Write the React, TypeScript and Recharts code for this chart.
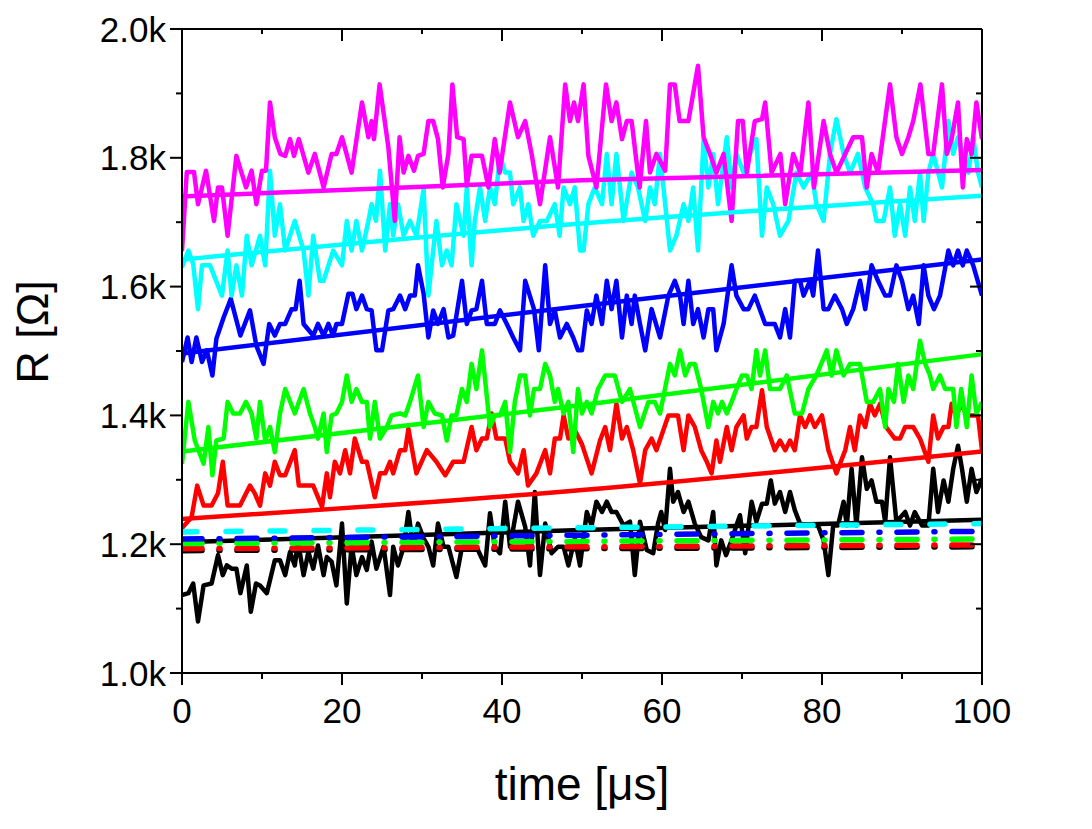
import React from 'react';
import { LineChart, Line, XAxis, YAxis } from 'recharts';

// [time µs, R Ω]
const magenta: [number, number][] = [
  [0, 1655], [0.6, 1778], [1.5, 1778], [2, 1728], [3, 1780], [4, 1702], [4.5, 1754], [5, 1754], [5.7, 1679], [6.8, 1803],
  [8, 1754], [8.7, 1780], [9.3, 1728], [10, 1780], [10.5, 1780], [11, 1886], [11.6, 1832], [12.3, 1806], [12.9, 1803], [13.5, 1829],
  [14, 1803], [14.6, 1829], [15.8, 1777], [16.6, 1806], [17.7, 1754], [18.7, 1806], [19.3, 1806], [20, 1832], [21.2, 1777], [22.5, 1886],
  [23.3, 1832], [23.7, 1857], [24, 1829], [24.7, 1914], [25.8, 1816], [26.6, 1702], [27.2, 1832], [27.7, 1777], [28.3, 1803], [29, 1780],
  [29.5, 1803], [30.2, 1806], [30.8, 1857], [31.4, 1857], [32, 1829], [32.6, 1754], [33.3, 1806], [33.8, 1914], [34.4, 1832], [35.2, 1829],
  [35.6, 1757], [36.2, 1803], [37.5, 1803], [38.3, 1754], [39.1, 1829], [39.7, 1777], [41, 1886], [42, 1832], [42.9, 1857], [43.7, 1806],
  [44.75, 1728], [46, 1832], [47, 1754], [47.9, 1914], [48.5, 1857], [49, 1886], [49.5, 1857], [50.2, 1914], [50.8, 1803], [51.8, 1754],
  [53, 1914], [53.7, 1857], [54.3, 1886], [55, 1829], [55.6, 1857], [56.2, 1857], [57.2, 1754], [58, 1857], [58.5, 1777], [59.3, 1806],
  [60.4, 1780], [61, 1914], [61.6, 1914], [62.2, 1857], [63.3, 1857], [64.5, 1943], [65.2, 1832], [66, 1806], [66.8, 1777], [67.7, 1806],
  [68.7, 1702], [69.5, 1857], [70.1, 1857], [70.6, 1777], [71.6, 1857], [72.5, 1860], [72.9, 1886], [73.7, 1777], [74.8, 1806], [75.4, 1728],
  [76.4, 1806], [77.3, 1777], [78.3, 1886], [79, 1754], [80.2, 1857], [81, 1806], [81.8, 1777], [82.9, 1806], [83.9, 1832], [85, 1832],
  [85.6, 1754], [86.2, 1806], [87, 1777], [88.5, 1914], [89.3, 1832], [90, 1806], [90.8, 1832], [91.4, 1857], [92.3, 1914], [93.3, 1806],
  [93.9, 1806], [95, 1914], [95.6, 1806], [96.2, 1829], [97, 1886], [97.6, 1754], [98.1, 1829], [98.7, 1806], [99.3, 1886], [100, 1829],
];

const cyan: [number, number][] = [
  [0, 1630], [0.8, 1656], [1.4, 1635], [2, 1565], [2.5, 1633], [3.5, 1633], [5, 1586], [5.7, 1656], [6.2, 1586], [6.8, 1633],
  [7.5, 1586], [8.1, 1679], [8.7, 1633], [9.75, 1679], [10.4, 1633], [11, 1780], [11.6, 1679], [12.25, 1728], [12.9, 1656], [14.1, 1702],
  [15.2, 1656], [15.8, 1586], [16.4, 1679], [17.25, 1609], [17.7, 1609], [18.9, 1656], [20, 1633], [20.6, 1702], [21.2, 1656], [21.8, 1702],
  [22.5, 1656], [23.3, 1702], [23.7, 1728], [24.25, 1702], [24.75, 1780], [25.4, 1656], [26, 1728], [26.4, 1679], [27, 1728], [27.7, 1679],
  [28.5, 1702], [29.3, 1679], [30.2, 1751], [30.8, 1586], [31.8, 1702], [32.5, 1633], [33.1, 1656], [33.7, 1633], [34.3, 1728], [35.2, 1679],
  [35.6, 1754], [36.2, 1633], [36.6, 1702], [37.25, 1754], [37.9, 1702], [38.5, 1754], [39.1, 1728], [39.75, 1803], [40.4, 1777], [41, 1777],
  [41.4, 1728], [42.25, 1754], [42.7, 1702], [43.3, 1728], [43.9, 1679], [44.75, 1702], [45.6, 1702], [46.6, 1728], [47.2, 1679], [47.7, 1754],
  [48.5, 1728], [49.1, 1754], [49.75, 1656], [50.2, 1656], [50.8, 1728], [51.6, 1754], [52.5, 1728], [53.1, 1806], [53.7, 1728], [54.3, 1806],
  [55.2, 1702], [56.2, 1777], [57, 1754], [57.9, 1702], [58.5, 1754], [59.1, 1728], [59.75, 1806], [61, 1656], [61.8, 1679], [62.7, 1728],
  [63.3, 1702], [63.9, 1754], [64.5, 1656], [65.2, 1829], [65.8, 1754], [66.4, 1806], [67, 1728], [68.1, 1832], [68.7, 1754], [69.3, 1806],
  [70.2, 1777], [71, 1806], [71.8, 1829], [72.5, 1679], [73.1, 1754], [73.9, 1728], [74.75, 1679], [75.8, 1702], [76.8, 1777], [77.7, 1754],
  [78.7, 1777], [79.3, 1728], [80.2, 1702], [81, 1806], [81.8, 1860], [82.7, 1806], [83.5, 1777], [84.5, 1806], [85.4, 1754], [86.4, 1728],
  [86.8, 1702], [87.7, 1702], [88.5, 1754], [89.1, 1679], [89.75, 1728], [90.4, 1679], [91, 1754], [91.6, 1702], [92.25, 1777], [92.7, 1702],
  [93.3, 1777], [93.9, 1806], [95, 1754], [95.8, 1857], [96.4, 1806], [97, 1832], [97.7, 1806], [98.3, 1777], [98.9, 1832], [99.5, 1777],
  [100, 1754],
];

const blue: [number, number][] = [
  [0, 1483], [0.7, 1521], [1.2, 1483], [1.8, 1521], [2.5, 1483], [3.1, 1501], [3.8, 1462], [4.3, 1519], [5.2, 1552], [6.1, 1581],
  [7.3, 1524], [8.5, 1563], [9.3, 1508], [10.2, 1480], [10.9, 1542], [11.6, 1524], [12.25, 1542], [12.9, 1542], [13.7, 1565], [14.2, 1565],
  [14.7, 1609], [15.2, 1542], [16.4, 1524], [17, 1542], [17.7, 1524], [18.3, 1542], [18.9, 1524], [19.3, 1542], [20, 1542], [20.8, 1589],
  [21.3, 1589], [21.8, 1565], [22.5, 1586], [23.1, 1565], [23.7, 1563], [24.3, 1501], [25, 1501], [25.8, 1563], [26.4, 1565], [27.25, 1586],
  [27.9, 1565], [28.5, 1586], [29.1, 1586], [29.5, 1633], [30.2, 1589], [30.8, 1521], [31.4, 1563], [32, 1542], [32.7, 1565], [33.3, 1521],
  [33.9, 1524], [35, 1609], [35.6, 1542], [36.2, 1563], [36.8, 1565], [37.5, 1609], [38.1, 1542], [39.1, 1542], [39.75, 1563], [40.6, 1542],
  [41.4, 1521], [42.25, 1501], [42.9, 1609], [44, 1565], [44.6, 1501], [45.4, 1633], [46, 1542], [46.6, 1563], [47.25, 1521], [48.1, 1542],
  [48.9, 1521], [49.5, 1501], [50, 1501], [50.6, 1563], [51.2, 1542], [51.8, 1586], [52.5, 1542], [53.1, 1609], [53.7, 1565], [54.3, 1609],
  [55, 1521], [55.6, 1586], [56.2, 1542], [56.6, 1586], [57.25, 1542], [57.9, 1501], [58.7, 1565], [59.75, 1521], [60.8, 1586], [61.6, 1609],
  [62.25, 1586], [62.7, 1542], [63.3, 1609], [63.9, 1542], [64.5, 1565], [65.2, 1521], [65.8, 1565], [66.4, 1565], [66.8, 1501], [67.7, 1542],
  [68.7, 1633], [69.3, 1586], [70.2, 1565], [70.8, 1565], [71.6, 1586], [72.9, 1542], [74.1, 1542], [74.75, 1521], [75.4, 1565], [76, 1521],
  [76.6, 1609], [77.25, 1609], [77.7, 1586], [78.5, 1609], [78.9, 1586], [79.5, 1656], [80.2, 1565], [80.8, 1565], [81.6, 1586], [82.5, 1565],
  [83.1, 1542], [83.9, 1565], [84.75, 1609], [85.4, 1565], [86.2, 1633], [87, 1609], [87.9, 1586], [88.5, 1586], [89.3, 1633], [90, 1609],
  [90.8, 1565], [91.4, 1586], [92.1, 1542], [92.7, 1633], [93.3, 1586], [94, 1565], [94.75, 1586], [95.8, 1656], [96.4, 1633], [97, 1656],
  [97.6, 1633], [98.1, 1656], [98.9, 1633], [100, 1586],
];

const green: [number, number][] = [
  [0, 1325], [0.8, 1421], [1.6, 1361], [2.7, 1325], [3.3, 1382], [3.8, 1307], [4.3, 1361], [5.2, 1364], [5.7, 1421], [6.4, 1403],
  [7.25, 1403], [8, 1421], [8.7, 1403], [9.3, 1364], [9.75, 1421], [10.4, 1361], [11, 1382], [11.6, 1343], [12.25, 1403], [12.9, 1441],
  [14.1, 1403], [15.2, 1441], [16, 1403], [16.6, 1382], [17, 1364], [17.7, 1403], [18.1, 1343], [18.7, 1400], [19.3, 1403], [20, 1421],
  [20.6, 1462], [21.2, 1421], [21.8, 1441], [22.5, 1421], [23.1, 1421], [23.5, 1364], [24.1, 1421], [24.75, 1364], [25.6, 1382], [26.2, 1400],
  [27.25, 1403], [27.9, 1400], [28.5, 1421], [29.5, 1462], [30.2, 1382], [30.8, 1421], [31.6, 1403], [32.5, 1400], [33.1, 1361], [33.7, 1400],
  [34.3, 1400], [35, 1441], [35.6, 1421], [36.2, 1480], [36.8, 1441], [37.5, 1501], [38.5, 1382], [39.1, 1400], [39.75, 1400], [40.4, 1421],
  [41, 1343], [41.6, 1421], [42.25, 1462], [42.9, 1462], [43.5, 1400], [44, 1441], [44.75, 1441], [45.4, 1480], [46, 1462], [46.6, 1421],
  [47, 1441], [47.7, 1403], [48.3, 1421], [48.9, 1343], [49.5, 1441], [50, 1403], [50.6, 1421], [51.2, 1403], [52, 1441], [52.9, 1462],
  [54.1, 1462], [55, 1421], [56, 1441], [57.25, 1382], [58.3, 1421], [59.1, 1421], [59.75, 1403], [61, 1480], [61.6, 1462], [62.25, 1501],
  [62.9, 1462], [63.5, 1480], [64.1, 1480], [64.9, 1441], [65.8, 1382], [66.4, 1421], [67, 1403], [67.5, 1421], [68.1, 1403], [68.7, 1421],
  [69.3, 1441], [70, 1462], [70.6, 1462], [71.2, 1441], [71.8, 1501], [72.25, 1462], [72.9, 1501], [73.5, 1441], [74.75, 1441], [75.6, 1462],
  [76.6, 1403], [77.5, 1403], [78.3, 1441], [79.3, 1462], [80.6, 1501], [81.2, 1462], [81.8, 1501], [82.7, 1462], [83.5, 1480], [84.75, 1480],
  [85.6, 1421], [86.4, 1421], [87.25, 1441], [87.9, 1382], [88.3, 1441], [89, 1421], [89.5, 1480], [90.2, 1421], [90.8, 1462], [91.4, 1441],
  [92.25, 1516], [92.9, 1480], [93.5, 1462], [93.9, 1441], [94.75, 1462], [95.4, 1441], [96.4, 1441], [96.8, 1382], [97.4, 1441], [98.1, 1382],
  [98.7, 1462], [99.3, 1403], [100, 1421],
];

const red: [number, number][] = [
  [0, 1225], [1.2, 1242], [1.9, 1291], [2.7, 1260], [3.7, 1260], [4.5, 1279], [5.1, 1328], [5.7, 1260], [7.25, 1260], [8.5, 1291],
  [9.1, 1279], [9.75, 1260], [10.4, 1310], [11, 1291], [11.6, 1328], [12.25, 1307], [12.9, 1307], [14.1, 1346], [14.6, 1291], [16.4, 1291],
  [17.5, 1258], [18.1, 1310], [18.5, 1273], [19.1, 1328], [19.75, 1310], [20.4, 1346], [21, 1310], [21.6, 1364], [22.5, 1328], [23.1, 1328],
  [24.1, 1273], [24.75, 1310], [25.4, 1310], [26, 1328], [26.4, 1310], [27.25, 1346], [27.9, 1346], [28.3, 1379], [29.3, 1310], [30.6, 1346],
  [31.8, 1328], [32.9, 1307], [33.9, 1328], [35.2, 1328], [36.2, 1382], [36.8, 1346], [37.5, 1364], [38.1, 1364], [38.7, 1403], [39.3, 1364],
  [40.4, 1364], [41, 1328], [42, 1310], [42.7, 1346], [43.25, 1291], [44.3, 1310], [45.4, 1346], [46, 1310], [46.6, 1364], [47.25, 1364],
  [47.7, 1400], [48.3, 1364], [48.9, 1382], [50, 1355], [51.2, 1310], [52.25, 1361], [52.9, 1382], [53.5, 1346], [54.3, 1418], [55, 1364],
  [55.6, 1382], [56.4, 1346], [57.25, 1294], [57.9, 1346], [58.7, 1364], [59.3, 1346], [60.8, 1400], [62, 1400], [62.7, 1346], [63.3, 1400],
  [64.1, 1382], [64.9, 1346], [65.6, 1328], [66.2, 1310], [66.8, 1361], [67.25, 1328], [68.1, 1382], [68.7, 1346], [69.3, 1382], [70.2, 1400],
  [70.6, 1364], [71.2, 1382], [71.8, 1382], [72.5, 1439], [73.1, 1382], [74.1, 1346], [74.75, 1361], [75.4, 1346], [76, 1361], [76.6, 1346],
  [77.25, 1400], [77.9, 1382], [78.5, 1400], [79.1, 1382], [80, 1400], [80.8, 1346], [81.8, 1310], [82.9, 1346], [83.5, 1382], [84.1, 1346],
  [84.75, 1400], [85.4, 1382], [86, 1418], [86.6, 1400], [87.25, 1418], [88, 1382], [89.1, 1364], [89.75, 1364], [90.4, 1382], [91.4, 1382],
  [92.25, 1364], [93.3, 1328], [93.9, 1400], [94.5, 1364], [95.2, 1382], [95.8, 1382], [96.2, 1418], [96.8, 1400], [97.4, 1418], [98.1, 1400],
  [98.7, 1400], [99.5, 1400], [100, 1346],
];

const black: [number, number][] = [
  [0, 1121], [0.8, 1124], [1.4, 1139], [2, 1080], [2.7, 1136], [3.7, 1139], [4.5, 1183], [5.1, 1152], [5.6, 1167], [6.2, 1162],
  [6.8, 1162], [7.3, 1124], [8.1, 1167], [8.6, 1095], [9.25, 1139], [9.75, 1136], [10.6, 1124], [11, 1144], [11.6, 1175], [12.25, 1175],
  [12.9, 1152], [13.5, 1188], [14.1, 1167], [14.5, 1204], [15.2, 1152], [15.8, 1188], [16.4, 1162], [17, 1198], [17.7, 1152], [18.1, 1180],
  [18.7, 1173], [19.3, 1136], [20, 1232], [20.6, 1108], [21.2, 1198], [21.8, 1152], [22.5, 1180], [23.1, 1160], [23.7, 1204], [24.3, 1162],
  [25.2, 1196], [26, 1121], [26.4, 1196], [27, 1167], [27.7, 1196], [28.3, 1250], [28.9, 1196], [29.5, 1232], [30.2, 1209], [30.8, 1196],
  [31.4, 1167], [32, 1232], [32.7, 1196], [33.3, 1196], [34.3, 1149], [35, 1196], [35.8, 1196], [36.8, 1196], [37.9, 1167], [38.5, 1248],
  [39.1, 1196], [39.75, 1186], [40.4, 1266], [41, 1196], [42, 1266], [42.9, 1227], [43.5, 1167], [44.1, 1281], [44.75, 1152], [45.4, 1232],
  [46.2, 1186], [47, 1196], [47.7, 1196], [48.3, 1167], [49.1, 1209], [49.75, 1167], [50.6, 1250], [51.2, 1229], [51.8, 1266], [52.5, 1250],
  [53.1, 1266], [53.7, 1250], [54.3, 1250], [55.2, 1229], [56, 1235], [56.6, 1152], [57.25, 1235], [58.1, 1191], [58.9, 1186], [59.5, 1232],
  [59.9, 1250], [60.4, 1222], [61, 1317], [61.4, 1266], [62, 1281], [62.7, 1250], [63.3, 1266], [64.1, 1232], [64.9, 1211], [65.8, 1206],
  [66.4, 1250], [66.8, 1167], [67.4, 1206], [68, 1183], [68.7, 1206], [69.3, 1229], [69.75, 1245], [70.4, 1186], [71.2, 1266], [71.8, 1235],
  [72.5, 1263], [73.1, 1263], [73.6, 1299], [74.1, 1263], [74.75, 1281], [75.4, 1250], [76, 1281], [76.6, 1253], [77.25, 1232], [78.5, 1229],
  [79.5, 1229], [80.2, 1206], [80.8, 1152], [81.4, 1229], [82, 1229], [82.7, 1266], [83.1, 1229], [83.7, 1317], [84.3, 1229], [85, 1335],
  [85.6, 1286], [86.2, 1299], [86.8, 1266], [87.5, 1266], [87.9, 1235], [88.5, 1335], [89.3, 1235], [90.4, 1250], [91, 1229], [91.6, 1250],
  [92.5, 1229], [93.3, 1229], [93.9, 1317], [94.5, 1250], [95.2, 1299], [95.8, 1266], [96.4, 1317], [97, 1353], [97.5, 1317], [98.1, 1266],
  [98.7, 1317], [99.3, 1281], [100, 1302],
];

// fitted trend lines (start, middle, end)
const magentaFit: [number, number][] = [[0, 1740], [50, 1765], [100, 1781]];
const cyanFit: [number, number][] = [[0, 1642], [50, 1698], [100, 1741]];
const blueFit: [number, number][] = [[0, 1496], [50, 1570], [100, 1642]];
const greenFit: [number, number][] = [[0, 1344], [50, 1416], [100, 1495]];
const redFit: [number, number][] = [[0, 1239], [50, 1284], [100, 1344]];
const blackFit: [number, number][] = [[0, 1203], [50, 1222], [100, 1238]];

// baseline levels (dashed)
const cyanBase: [number, number][] = [[0, 1219], [100, 1232]];
const blueBase: [number, number][] = [[0, 1208], [100, 1220]];
const greenBase: [number, number][] = [[0, 1201], [100, 1208]];
const redBase: [number, number][] = [[0, 1193], [100, 1199]];
const blackBase: [number, number][] = [[0, 1190], [100, 1196]];

const xTicks = [0, 10, 20, 30, 40, 50, 60, 70, 80, 90, 100];
const yTicks = [1000, 1100, 1200, 1300, 1400, 1500, 1600, 1700, 1800, 1900, 2000];

const toPts = (a: [number, number][]) => a.map(([t, r]) => ({ t, r }));

const FONT = '"Liberation Sans", Arial, sans-serif';
const TICK_FS = 35;

const BottomTick = (p: any) => {
  const v = p.payload.value;
  const major = v % 20 === 0;
  return (
    <g>
      <line x1={p.x} x2={p.x} y1={p.y} y2={p.y + (major ? 12 : 6)} stroke="#000" strokeWidth={2} />
      {major && (
        <text x={p.x} y={p.y + 50} textAnchor="middle" fontSize={TICK_FS} fill="#000" fontFamily={FONT}>
          {v}
        </text>
      )}
    </g>
  );
};

const TopTick = (p: any) => {
  const major = p.payload.value % 20 === 0;
  return <line x1={p.x} x2={p.x} y1={p.y} y2={p.y + (major ? 12 : 5)} stroke="#000" strokeWidth={2} />;
};

const LeftTick = (p: any) => {
  const v = p.payload.value;
  const major = v % 200 === 0;
  return (
    <g>
      <line x1={p.x} x2={p.x - (major ? 12 : 6)} y1={p.y} y2={p.y} stroke="#000" strokeWidth={2} />
      {major && (
        <text x={p.x - 16} y={p.y} dy="0.36em" textAnchor="end" fontSize={TICK_FS} fill="#000" fontFamily={FONT}>
          {(v / 1000).toFixed(1)}k
        </text>
      )}
    </g>
  );
};

const RightTick = (p: any) => {
  const major = p.payload.value % 200 === 0;
  return <line x1={p.x} x2={p.x - (major ? 12 : 6)} y1={p.y} y2={p.y} stroke="#000" strokeWidth={2} />;
};

const YLabel = (props: any) => {
  const vb = props.viewBox;
  const cx = vb.x + 40;
  const cy = vb.y + vb.height / 2 - 19;
  return (
    <text x={cx} y={cy} transform={`rotate(-90, ${cx}, ${cy})`} textAnchor="middle" fontSize={45} fill="#000" fontFamily={FONT}>
      R [Ω]
    </text>
  );
};

const noisy = [
  { key: 'black', data: black, color: '#000000' },
  { key: 'red', data: red, color: '#ff0000' },
  { key: 'green', data: green, color: '#00ff00' },
  { key: 'blue', data: blue, color: '#0000ff' },
  { key: 'cyan', data: cyan, color: '#00ffff' },
  { key: 'magenta', data: magenta, color: '#ff00ff' },
];

const fits = [
  { key: 'blackFit', data: blackFit, color: '#000000' },
  { key: 'redFit', data: redFit, color: '#ff0000' },
  { key: 'greenFit', data: greenFit, color: '#00ff00' },
  { key: 'blueFit', data: blueFit, color: '#0000ff' },
  { key: 'cyanFit', data: cyanFit, color: '#00ffff' },
  { key: 'magentaFit', data: magentaFit, color: '#ff00ff' },
];

const bases = [
  { key: 'blackBase', data: blackBase, color: '#000000', dash: '20 17 1 17' },
  { key: 'redBase', data: redBase, color: '#ff0000', dash: '20 17 1 17' },
  { key: 'greenBase', data: greenBase, color: '#00ff00', dash: '20 17 1 17' },
  { key: 'blueBase', data: blueBase, color: '#0000ff', dash: '20 17 1 17' },
  { key: 'cyanBase', data: cyanBase, color: '#00ffff', dash: '15 29' },
];

export default function App() {
  return (
    <div style={{ width: 1076, height: 813, fontFamily: FONT, background: '#fff' }}>
      <LineChart width={1076} height={813} margin={{ top: 20, right: 101, bottom: 0, left: 0 }}>
        <XAxis
          dataKey="t"
          type="number"
          domain={[0, 100]}
          allowDataOverflow
          ticks={xTicks}
          interval={0}
          height={148}
          tickSize={0}
          tickMargin={0}
          tickLine={false}
          tick={<BottomTick />}
          axisLine={{ stroke: '#000', strokeWidth: 2 }}
          label={{ value: 'time [μs]', position: 'insideBottom', offset: 21, fontSize: 46, fill: '#000', fontFamily: FONT }}
        />
        <XAxis
          xAxisId="top"
          orientation="top"
          dataKey="t"
          type="number"
          domain={[0, 100]}
          allowDataOverflow
          ticks={xTicks}
          interval={0}
          height={1}
          tickSize={0}
          tickMargin={0}
          tickLine={false}
          tick={<TopTick />}
          axisLine={{ stroke: '#000', strokeWidth: 2 }}
        />
        <YAxis
          type="number"
          domain={[1000, 2000]}
          allowDataOverflow
          ticks={yTicks}
          interval={0}
          width={174}
          tickSize={0}
          tickMargin={0}
          tickLine={false}
          tick={<LeftTick />}
          axisLine={{ stroke: '#000', strokeWidth: 2 }}
          label={{ content: YLabel }}
        />
        <YAxis
          yAxisId="right"
          orientation="right"
          type="number"
          domain={[1000, 2000]}
          allowDataOverflow
          ticks={yTicks}
          interval={0}
          width={1}
          tickSize={0}
          tickMargin={0}
          tickLine={false}
          tick={<RightTick />}
          axisLine={{ stroke: '#000', strokeWidth: 2 }}
        />

        {noisy.map((s) => (
          <Line
            key={s.key}
            data={toPts(s.data)}
            dataKey="r"
            type="linear"
            stroke={s.color}
            strokeWidth={4.5}
            strokeLinejoin="round"
            dot={false}
            activeDot={false}
            isAnimationActive={false}
          />
        ))}

        {fits.map((s) => (
          <Line
            key={s.key}
            data={toPts(s.data)}
            dataKey="r"
            type="monotone"
            stroke={s.color}
            strokeWidth={4.5}
            dot={false}
            activeDot={false}
            isAnimationActive={false}
          />
        ))}

        {bases.map((s) => (
          <Line
            key={s.key}
            data={toPts(s.data)}
            dataKey="r"
            type="linear"
            stroke={s.color}
            strokeWidth={5.5}
            strokeDasharray={s.dash}
            strokeLinecap="round"
            dot={false}
            activeDot={false}
            isAnimationActive={false}
          />
        ))}
      </LineChart>
    </div>
  );
}
